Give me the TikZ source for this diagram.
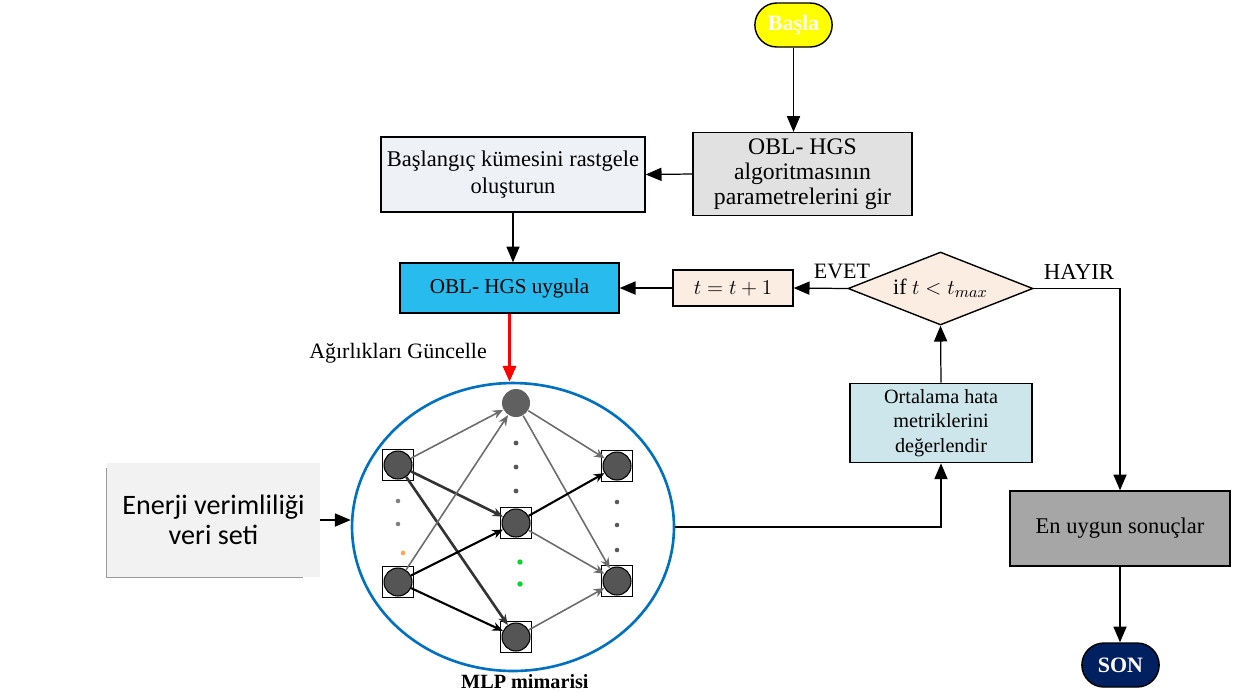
\documentclass[tikz,border=0pt]{standalone}
\usepackage{fontspec}
\setmainfont{Liberation Serif}
\newfontfamily\calibri{Carlito}
\usetikzlibrary{shapes.geometric,shapes.misc,arrows.meta}

\definecolor{pyellow}{HTML}{FFFF00}
\definecolor{pgray}{HTML}{E1E1E1}
\definecolor{pinit}{HTML}{EEF2F7}
\definecolor{pcyan}{HTML}{27BBEE}
\definecolor{ppeach}{HTML}{FCEDE2}
\definecolor{peval}{HTML}{CDE6EC}
\definecolor{pbest}{HTML}{A6A6A6}
\definecolor{pnavy}{HTML}{002060}
\definecolor{pring}{HTML}{0070C0}
\definecolor{pneuron}{HTML}{555555}

\newcommand{\fs}[1]{\fontsize{#1}{1.15*#1}\selectfont}

\begin{document}
\begin{tikzpicture}[x=0.02cm, y=-0.02cm,
    every node/.style={font=\fontsize{12.5}{14.5}\selectfont},
    box/.style={rectangle, draw, line width=0.8pt, align=center},
    pill/.style={rounded rectangle, draw, line width=0.8pt, minimum width=1.78cm, minimum height=0.88cm, font=\fontsize{12.5}{14}\selectfont\bfseries, text=white},
    arr/.style={-{Triangle[length=9pt, width=7.5pt]}, line width=0.7pt},
    sq/.style={rectangle, draw, line width=0.5pt, minimum size=0.63cm, inner sep=0pt},
    neuron/.style={circle, draw, line width=0.6pt, fill=pneuron, minimum size=0.56cm, inner sep=0pt},
    wgray/.style={-{Stealth[length=6pt, width=5pt]}, draw=gray!85!black, line width=0.9pt},
    wdark/.style={-{Stealth[length=6pt, width=5pt]}, draw=black, line width=1.2pt}]

    \useasboundingbox (0,0) rectangle (1246,691);

    % flow chart
    \node[pill, fill=pyellow] (basla) at (793.5,25) {Başla};
    \node[box, fill=pgray, minimum width=4.38cm, minimum height=1.52cm, font=\fontsize{13.5}{14.3}\selectfont] (param) at (802.5,174) {OBL- HGS\\ algoritmasının\\ parametrelerini gir};
    \node[box, fill=pinit, minimum width=5.2cm, minimum height=1.5cm, font=\fontsize{12.8}{15}\selectfont] (init) at (513,174.5) {Başlangıç kümesini rastgele\\ oluşturun};
    \node[box, fill=pcyan, minimum width=4.38cm, minimum height=1cm, font=\fontsize{12}{14}\selectfont] (obl) at (509.5,288) {OBL- HGS uygula};
    \node[box, fill=ppeach, minimum width=2.4cm, minimum height=0.72cm] (inc) at (733,288) {$t=t+1$};
    \node[diamond, draw, line width=0.8pt, fill=ppeach, aspect=2.5, inner sep=1pt, minimum width=3.7cm, minimum height=1.46cm] (cond) at (940.5,288.5) {if $t<t_{max}$};
    \node[box, fill=peval, minimum width=3.64cm, minimum height=1.52cm, font=\fontsize{11.5}{14}\selectfont] (eval) at (941,423) {Ortalama hata\\ metriklerini\\ değerlendir};
    \node[box, fill=pbest, minimum width=4.4cm, minimum height=1.5cm, font=\fontsize{12.8}{15}\selectfont] (best) at (1120,528.5) {En uygun sonuçlar};
    \node[pill, fill=pnavy] (son) at (1120.5,665) {SON};

    \node[fill=gray!10, minimum width=4.26cm, minimum height=2.28cm, align=center, font=\calibri\fontsize{16}{17}\selectfont] (veri) at (213.5,520) {Enerji verimliliği\\ veri seti};
    \draw[gray!80] ([yshift=-0.1cm] veri.north west) -- (veri.south west) -- ([xshift=-0.35cm] veri.south east);

    \node[ellipse, draw=pring, line width=1.5pt, minimum width=6.44cm, minimum height=5.76cm] (mlp) at (513,527) {};

    \draw[arr] (basla.south) -- (basla.south |- param.north);
    \draw[arr] (param.west) -- (init.east);
    \draw[arr] (init.south) -- (init.south |- obl.north);
    \draw[arr] (cond.west) -- (inc.east);
    \draw[arr] (inc.west) -- (obl.east);
    \draw[arr] (cond.east) -| (best.north);
    \draw[arr] (best.south) -- (best.south |- son.north);
    \draw[arr] (eval.north) -- (cond.south);
    \draw[arr] (mlp.east) -| (eval.south);
    \draw[arr] (veri.east) -- (veri.east -| mlp.west);
    \draw[arr, red, line width=1.5pt] (obl.south) -- (obl.south |- mlp.north);
    \node (evet) at (842,271) {EVET};
    \node[font=\fontsize{13}{15}\selectfont] (hayir) at (1079,272) {HAYIR};
    \node (guncelle) at (398,353) {Ağırlıkları Güncelle};

    % network
    \node[sq] (i1b) at (398,465) {};
    \node[sq] (i2b) at (398,582) {};
    \node[sq] (h2b) at (516,523) {};
    \node[sq] (h3b) at (516,637) {};
    \node[sq] (o1b) at (617,466) {};
    \node[sq] (o2b) at (617,581) {};
    \node[neuron] (i1) at (i1b) {};
    \node[neuron] (i2) at (i2b) {};
    \node[neuron, draw=none, fill=gray!75!black] (h1) at (516,403) {};
    \node[neuron] (h2) at (h2b) {};
    \node[neuron] (h3) at (h3b) {};
    \node[neuron] (o1) at (o1b) {};
    \node[neuron] (o2) at (o2b) {};

    \draw[wgray] (i1) -- (h1);
    \draw[wdark, draw=black!80, line width=1.5pt] (i1) -- (h2);
    \draw[wdark, draw=black!80, line width=1.5pt] (i1) -- (h3);
    \draw[wgray, -{Stealth[length=6pt, width=5pt, fill=black]}] (i2) -- (h1);
    \draw[wdark] (i2) -- (h2);
    \draw[wdark] (i2) -- (h3);
    \draw[wgray] (h1) -- (o1);
    \draw[wgray] (h1) -- (o2);
    \draw[wdark] (h2) -- (o1);
    \draw[wgray] (h2) -- (o2);
    \draw[wgray] (h3) -- (o2);

    \foreach \y in {501,524} \fill[gray] (398,\y) circle (1.3pt);
    \fill[orange!70] (403,553) circle (1.3pt);
    \foreach \y in {443,467,491} \fill[gray!70!black] (516,\y) circle (1.4pt);
    \foreach \y in {562,584} \fill[green!70!teal] (520,\y) circle (1.5pt);
    \foreach \y in {502,525,550} \fill[gray!70!black] (617,\y) circle (1.3pt);

    \node[anchor=base west, font=\fontsize{11.5}{14}\selectfont\bfseries] (cap) at (455,688) {MLP mimarisi};
\end{tikzpicture}
\end{document}
